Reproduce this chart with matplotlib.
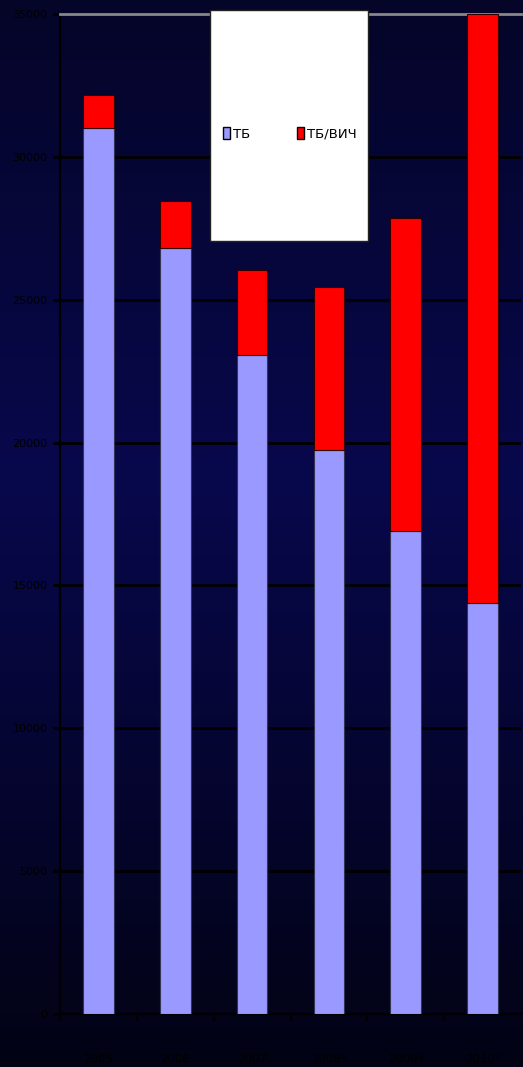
import numpy as np
import matplotlib.pyplot as plt
from matplotlib.patches import Patch, Rectangle

years = ["2005", "2006", "2007", "2008*", "2009*", "2010*"]
tb = [31000, 26800, 23050, 19750, 16900, 14400]
tb_hiv = [1150, 1650, 3000, 5700, 10950, 20600]
y_ticks = [0, 5000, 10000, 15000, 20000, 25000, 30000, 35000]

plt.rcParams['font.family'] = ['DejaVu Sans']

fig = plt.figure(figsize=(5.23, 10.67), dpi=100)

# background gradient (dark navy, brighter in the middle)
bg = fig.add_axes([0, 0, 1, 1], zorder=-10)
t = np.linspace(0, 1, 256)
top = np.array([0.02, 0.02, 0.16])
mid = np.array([0.03, 0.03, 0.30])
bot = np.array([0.01, 0.01, 0.08])
cols = np.where(t[:, None] < 0.45,
                top + (mid - top) * (t[:, None] / 0.45),
                mid + (bot - mid) * ((t[:, None] - 0.45) / 0.55))
bg.imshow(cols[:, None, :], aspect="auto", extent=[0, 1, 0, 1])
bg.set_axis_off()

W, H = 523, 1067
ax = fig.add_axes([60 / W, (H - 1014) / H, 461 / W, 1000 / H])
ax.set_facecolor("none")

x = np.arange(len(years))
ax.bar(x, tb, width=0.4, color="#9999FF", edgecolor="#333355", linewidth=0.8, zorder=3)
ax.bar(x, tb_hiv, bottom=tb, width=0.4, color="#FF0000", edgecolor="#330000",
       linewidth=0.8, zorder=3)

ax.set_ylim(0, 35000)
ax.set_xlim(-0.5, len(years) - 0.5)
ax.set_yticks(y_ticks)
ax.set_yticklabels([str(v) for v in y_ticks], fontsize=8, color="black")
ax.yaxis.grid(True, color="black", linewidth=2)
ax.set_axisbelow(True)

ax.set_xticks(x - 0.5)
ax.set_xticklabels([])
ax.set_xticks(x, minor=True)
ax.set_xticklabels(years, minor=True, fontsize=8.5, color="black")
ax.tick_params(axis="x", which="major", length=5, width=1.5, color="black")
ax.tick_params(axis="x", which="minor", length=0, pad=28)
ax.tick_params(axis="y", length=5, width=2, color="black", pad=4)

for s in ("left", "bottom"):
    ax.spines[s].set_color("black")
    ax.spines[s].set_linewidth(1.5)
ax.spines["top"].set_color("#888888")
ax.spines["top"].set_linewidth(2)
ax.spines["right"].set_visible(False)

# legend box
fig.patches.append(Rectangle((210 / W, 1 - 241 / H), 158 / W, 231 / H,
                             transform=fig.transFigure, facecolor="white",
                             edgecolor="#222222", linewidth=1, zorder=5))
handles = [Patch(facecolor="#9999FF", edgecolor="black"),
           Patch(facecolor="#FF0000", edgecolor="black")]
leg = fig.legend(handles, ["ТБ", "ТБ/ВИЧ"], ncol=2, frameon=False,
                 loc="center", bbox_to_anchor=(290 / W, 1 - 134 / H),
                 fontsize=9.5, handlelength=0.5, handleheight=1.0,
                 handletextpad=0.3, columnspacing=3.5)
leg.set_zorder(6)

fig.savefig("out.png", dpi=100)
